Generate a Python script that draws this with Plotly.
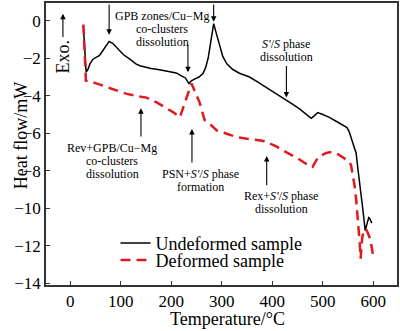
import plotly.graph_objects as go

# DSC heat-flow curves, heating from room temperature to 600 °C
temp_undeformed = [26, 28, 31.5, 35, 39, 45, 52, 58, 63, 70, 77, 84, 95, 105, 118, 130, 138,
                   150, 160, 174, 185, 197, 210, 221, 228, 235, 240, 247, 255, 263, 268, 273,
                   277, 280, 284, 288, 292, 297, 302, 310, 322, 335, 355, 370, 388, 405, 428,
                   440, 454, 465, 477, 482, 490, 500, 513, 529, 540, 548, 552, 556, 561, 566,
                   570, 574, 578, 582, 584, 588, 591, 593, 595, 597]
heat_undeformed = [-0.3, -1.5, -2.74, -2.6, -2.3, -2.05, -1.95, -1.85, -1.65, -1.35, -1.1, -1.2,
                   -1.5, -1.8, -2.05, -2.3, -2.4, -2.5, -2.55, -2.6, -2.65, -2.7, -2.78, -2.95,
                   -3.05, -3.35, -3.2, -3.1, -3.0, -2.8, -2.5, -2.0, -1.4, -0.75, -0.15, -0.55,
                   -0.95, -1.45, -1.9, -2.3, -2.6, -2.8, -3.0, -3.25, -3.55, -3.85, -4.25, -4.45,
                   -4.7, -4.95, -5.2, -5.1, -4.9, -5.0, -5.15, -5.4, -5.55, -5.7, -5.9, -6.2,
                   -6.6, -7.05, -8.0, -8.8, -9.75, -10.7, -11.2, -10.8, -10.5, -10.55, -10.7, -10.8]

temp_deformed = [26, 31, 40, 53, 79, 112, 140, 151, 171, 190, 205, 217, 228, 240, 248, 256, 266,
                 276, 290, 296, 310, 329, 350, 368, 381, 395, 408, 420, 435, 447, 454, 465, 480,
                 487, 493, 507, 519, 532, 546, 552, 556, 559, 563, 566, 570, 573, 575, 578, 581,
                 585, 589, 593, 597, 600]
heat_deformed = [-0.2, -3.2, -3.25, -3.35, -3.6, -3.9, -4.05, -4.1, -4.35, -4.65, -4.9, -5.15,
                 -4.3, -3.35, -3.85, -4.35, -5.3, -5.5, -5.85, -5.9, -6.05, -6.2, -6.3, -6.35,
                 -6.4, -6.55, -6.7, -6.9, -7.1, -7.3, -7.4, -7.6, -7.8, -7.45, -7.25, -7.05,
                 -7.0, -7.15, -7.4, -7.5, -7.7, -8.1, -8.8, -9.5, -10.7, -11.8, -12.7, -11.6,
                 -11.2, -11.1, -11.3, -11.6, -12.1, -12.6]

x_ticks = [0, 100, 200, 300, 400, 500, 600]
y_ticks = [0, -2, -4, -6, -8, -10, -12, -14]

SERIF = "Liberation Serif"

fig = go.Figure()
fig.add_trace(go.Scatter(x=temp_undeformed, y=heat_undeformed, mode="lines",
                         name="Undeformed sample", legend="legend", showlegend=True,
                         line=dict(color="black", width=1.5)))
fig.add_trace(go.Scatter(x=temp_deformed, y=heat_deformed, mode="lines",
                         name="Deformed sample", legend="legend2", showlegend=True,
                         line=dict(color="#e0191e", width=2.5, dash="10px,6px")))

annotations = []


def label(lines, x, y, size=12, step=13):
    """Multi-line centred label, one annotation per line for tight spacing."""
    for i, txt in enumerate(lines):
        annotations.append(dict(x=x, y=y, xref="x", yref="y", text=txt, showarrow=False,
                                yshift=-step * i, borderpad=0,
                                font=dict(family=SERIF, size=size, color="black")))


def arrow(x, y_tail, y_head):
    annotations.append(dict(x=x, y=y_head, ax=x, ay=y_tail, xref="x", yref="y",
                            axref="x", ayref="y", text="", showarrow=True,
                            arrowhead=2, arrowsize=1, arrowwidth=1.1, arrowcolor="black"))


label(["GPB zones/Cu\u2212Mg", "co-clusters", "dissolution"], 182, 0.23)
arrow(77, 0.95, -0.75)
arrow(233, -1.2, -2.75)
arrow(284, 0.95, -0.05)

label(["<i>S\u2032</i>/<i>S</i> phase", "dissolution"], 428, -1.22)
arrow(428, -2.33, -4.1)

label(["Rev+GPB/Cu\u2212Mg", "co-clusters", "dissolution"], 83, -6.79)
arrow(140, -6.26, -4.67)

label(["PSN+<i>S\u2032</i>/<i>S</i> phase", "formation"], 257, -8.17)
arrow(241, -7.64, -5.78)

label(["Rex+<i>S\u2032</i>/<i>S</i> phase", "dissolution"], 418, -9.33)
arrow(389, -8.85, -7.21)

# Exothermic direction marker
annotations.append(dict(x=-14.5, y=-1.91, xref="x", yref="y", text="Exo.", textangle=-90,
                        showarrow=False, font=dict(family=SERIF, size=18, color="black")))
arrow(-14.5, -0.95, 0.37)

# Axis titles
annotations.append(dict(x=-0.105, y=0.528, xref="paper", yref="paper", text="Heat flow/mW",
                        textangle=-90, showarrow=False,
                        font=dict(family=SERIF, size=18, color="black")))
annotations.append(dict(x=0.517, y=-0.122, xref="paper", yref="paper", text="Temperature/\u00b0C",
                        showarrow=False, yanchor="middle",
                        font=dict(family=SERIF, size=18, color="black")))

axis_common = dict(showline=True, mirror=True, linecolor="#333333", linewidth=1.5,
                   ticks="inside", ticklen=4, tickcolor="#333333", showgrid=False,
                   zeroline=False, tickfont=dict(family=SERIF, size=17, color="black"))

legend_common = dict(x=0.198, xanchor="left", yanchor="middle", bgcolor="rgba(0,0,0,0)",
                     font=dict(family=SERIF, size=18, color="black"), visible=True)

fig.update_layout(
    width=400, height=331,
    margin=dict(l=46, r=2, t=1, b=46),
    paper_bgcolor="white", plot_bgcolor="white",
    showlegend=True,
    xaxis=dict(range=[-48, 647], tickvals=x_ticks, **axis_common),
    yaxis=dict(range=[-14.1, 0.95], tickvals=y_ticks, **axis_common),
    legend=dict(y=0.148, **legend_common),
    legend2=dict(y=0.088, **legend_common),
    annotations=annotations,
)

fig.write_html("out.html")
